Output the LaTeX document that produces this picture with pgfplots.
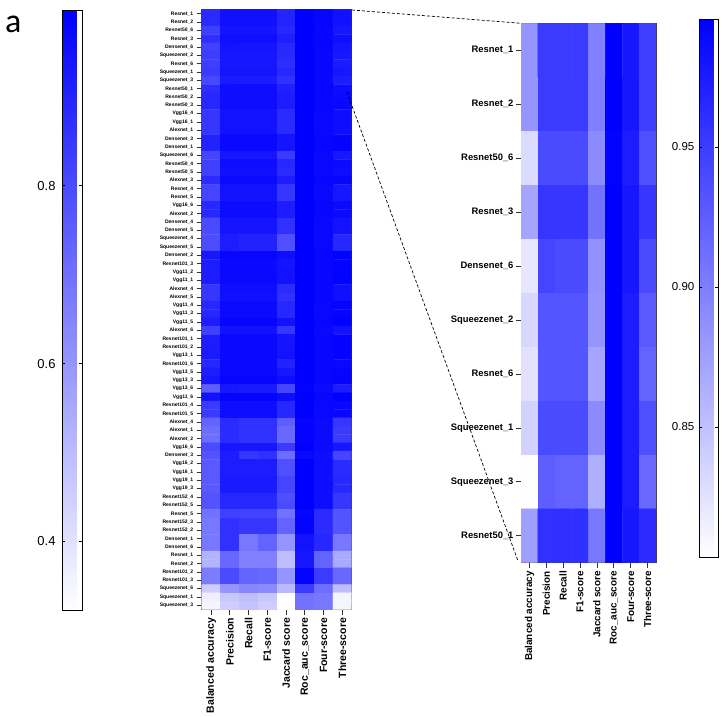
\documentclass[border=0pt]{standalone}
\usepackage{fontspec}
\setmainfont{Liberation Sans}
\newfontfamily\calibrifont{Carlito}
\usepackage{pgfplots}
\pgfplotsset{compat=1.18}

\pgfplotsset{
    colormap={whiteblue}{rgb255=(255,255,255) rgb255=(0,0,255)},
    heat/.style={
        colormap name=whiteblue,
        scale only axis,
        anchor=south west,
        y dir=reverse,
        enlargelimits=false,
        xmin=-0.5, xmax=7.5,
        tick align=outside,
        xtick pos=bottom,
        ytick pos=left,
        xtick={0,...,7},
        xticklabels={Balanced accuracy,Precision,Recall,F1-score,Jaccard score,Roc\_auc\_score,Four-score,Three-score},
        axis line style={line width=0.8pt, black!75},
        tick style={line width=0.7pt, black!80},
    },
    bar/.style={
        scale only axis,
        ytick pos=both,
        tick align=inside,
        major tick length=3pt,
        tick style={line width=0.7pt, black},
        axis line style={line width=0.8pt, black},
        /pgf/number format/assume math mode=true,
        /pgf/number format/fixed,
        /pgf/number format/zerofill,
        yticklabel pos=left,
    },
}

\begin{document}
\begin{tikzpicture}
\path[use as bounding box] (0,0) rectangle (728pt,717pt);
\node[anchor=base west, inner sep=0pt, font=\calibrifont\fontsize{34}{34}\selectfont] at (5pt,684.5pt) {a};

\begin{axis}[
    heat,
    at={(201.7pt,107.5pt)},
    width=150pt, height=600pt,
    ymin=-0.5, ymax=71.5,
    point meta min=0.322, point meta max=0.997,
    major tick length=5pt,
    ytick={0,...,71},
    yticklabels={Resnet\_1,Resnet\_2,Resnet50\_6,Resnet\_3,Densenet\_6,Squeezenet\_2,Resnet\_6,Squeezenet\_1,Squeezenet\_3,Resnet50\_1,Resnet50\_2,Resnet50\_3,Vgg16\_4,Vgg16\_1,Alexnet\_1,Densenet\_3,Densenet\_1,Squeezenet\_6,Resnet50\_4,Resnet50\_5,Alexnet\_3,Resnet\_4,Resnet\_5,Vgg16\_6,Alexnet\_2,Densenet\_4,Densenet\_5,Squeezenet\_4,Squeezenet\_5,Densenet\_2,Resnet101\_3,Vgg11\_2,Vgg11\_1,Alexnet\_4,Alexnet\_5,Vgg11\_4,Vgg11\_3,Vgg11\_5,Alexnet\_6,Resnet101\_1,Resnet101\_2,Vgg13\_1,Resnet101\_6,Vgg13\_5,Vgg13\_3,Vgg13\_6,Vgg11\_6,Resnet101\_4,Resnet101\_5,Alexnet\_4,Alexnet\_1,Alexnet\_2,Vgg16\_6,Densenet\_3,Vgg16\_2,Vgg16\_1,Vgg19\_1,Vgg19\_3,Resnet152\_4,Resnet152\_5,Resnet\_5,Resnet152\_3,Resnet152\_2,Densenet\_1,Densenet\_6,Resnet\_1,Resnet\_2,Resnet101\_2,Resnet101\_3,Squeezenet\_6,Squeezenet\_1,Squeezenet\_3},
    yticklabel style={font=\bfseries\fontsize{5}{5}\selectfont},
    xticklabel style={font=\bfseries\fontsize{10.5}{11}\selectfont, rotate=90, anchor=east},
    colorbar,
    colorbar style={
        bar,
        at={(-0.931,-0.002)}, anchor=south west,
        width=20pt, height=600pt,
        ytick={0.4,0.6,0.8},
        /pgf/number format/precision=1,
        yticklabel style={font=\fontsize{13}{13}\selectfont, xshift=-3pt},
    },
]
\addplot[matrix plot*, mesh/rows=72, mesh/cols=8, point meta=explicit]
table[row sep=\\, x=x, y=y, meta=C] {
x y C\\
0 0 0.883\\1 0 0.950\\2 0 0.950\\3 0 0.950\\4 0 0.898\\5 0 0.995\\6 0 0.977\\7 0 0.947\\
0 1 0.883\\1 1 0.950\\2 1 0.950\\3 1 0.950\\4 1 0.899\\5 1 0.995\\6 1 0.977\\7 1 0.947\\
0 2 0.830\\1 2 0.939\\2 2 0.939\\3 2 0.939\\4 2 0.890\\5 2 0.993\\6 2 0.973\\7 2 0.935\\
0 3 0.871\\1 3 0.954\\2 3 0.954\\3 3 0.954\\4 3 0.909\\5 3 0.995\\6 3 0.977\\7 3 0.954\\
0 4 0.822\\1 4 0.943\\2 4 0.939\\3 4 0.939\\4 4 0.886\\5 4 0.994\\6 4 0.977\\7 4 0.939\\
0 5 0.833\\1 5 0.931\\2 5 0.931\\3 5 0.931\\4 5 0.883\\5 5 0.995\\6 5 0.973\\7 5 0.928\\
0 6 0.826\\1 6 0.931\\2 6 0.931\\3 6 0.931\\4 6 0.871\\5 6 0.995\\6 6 0.973\\7 6 0.920\\
0 7 0.837\\1 7 0.939\\2 7 0.939\\3 7 0.939\\4 7 0.890\\5 7 0.995\\6 7 0.973\\7 7 0.935\\
0 8 0.804\\1 8 0.924\\2 8 0.920\\3 8 0.920\\4 8 0.864\\5 8 0.994\\6 8 0.973\\7 8 0.916\\
0 9 0.875\\1 9 0.958\\2 9 0.959\\3 9 0.959\\4 9 0.905\\5 9 0.995\\6 9 0.977\\7 9 0.962\\
0 10 0.891\\1 10 0.957\\2 10 0.957\\3 10 0.957\\4 10 0.918\\5 10 0.997\\6 10 0.975\\7 10 0.965\\
0 11 0.891\\1 11 0.962\\2 11 0.962\\3 11 0.962\\4 11 0.918\\5 11 0.997\\6 11 0.975\\7 11 0.971\\
0 12 0.851\\1 12 0.944\\2 12 0.944\\3 12 0.944\\4 12 0.878\\5 12 0.997\\6 12 0.972\\7 12 0.957\\
0 13 0.851\\1 13 0.944\\2 13 0.944\\3 13 0.944\\4 13 0.878\\5 13 0.997\\6 13 0.972\\7 13 0.957\\
0 14 0.851\\1 14 0.944\\2 14 0.944\\3 14 0.944\\4 14 0.878\\5 14 0.997\\6 14 0.972\\7 14 0.957\\
0 15 0.904\\1 15 0.968\\2 15 0.968\\3 15 0.968\\4 15 0.939\\5 15 0.997\\6 15 0.975\\7 15 0.985\\
0 16 0.904\\1 16 0.968\\2 16 0.968\\3 16 0.968\\4 16 0.939\\5 16 0.997\\6 16 0.975\\7 16 0.985\\
0 17 0.812\\1 17 0.931\\2 17 0.931\\3 17 0.931\\4 17 0.838\\5 17 0.992\\6 17 0.972\\7 17 0.931\\
0 18 0.825\\1 18 0.957\\2 18 0.957\\3 18 0.957\\4 18 0.891\\5 18 0.997\\6 18 0.972\\7 18 0.965\\
0 19 0.825\\1 19 0.949\\2 19 0.949\\3 19 0.949\\4 19 0.878\\5 19 0.997\\6 19 0.972\\7 19 0.957\\
0 20 0.878\\1 20 0.965\\2 20 0.965\\3 20 0.965\\4 20 0.918\\5 20 0.997\\6 20 0.975\\7 20 0.976\\
0 21 0.812\\1 21 0.944\\2 21 0.944\\3 21 0.944\\4 21 0.851\\5 21 0.997\\6 21 0.972\\7 21 0.931\\
0 22 0.812\\1 22 0.944\\2 22 0.944\\3 22 0.944\\4 22 0.851\\5 22 0.997\\6 22 0.972\\7 22 0.931\\
0 23 0.891\\1 23 0.962\\2 23 0.962\\3 23 0.962\\4 23 0.918\\5 23 0.997\\6 23 0.975\\7 23 0.965\\
0 24 0.891\\1 24 0.962\\2 24 0.962\\3 24 0.962\\4 24 0.918\\5 24 0.997\\6 24 0.975\\7 24 0.965\\
0 25 0.798\\1 25 0.939\\2 25 0.939\\3 25 0.939\\4 25 0.865\\5 25 0.997\\6 25 0.972\\7 25 0.944\\
0 26 0.798\\1 26 0.939\\2 26 0.939\\3 26 0.939\\4 26 0.865\\5 26 0.997\\6 26 0.972\\7 26 0.944\\
0 27 0.791\\1 27 0.918\\2 27 0.904\\3 27 0.904\\4 27 0.785\\5 27 0.997\\6 27 0.972\\7 27 0.891\\
0 28 0.791\\1 28 0.918\\2 28 0.904\\3 28 0.904\\4 28 0.785\\5 28 0.997\\6 28 0.972\\7 28 0.891\\
0 29 0.931\\1 29 0.976\\2 29 0.976\\3 29 0.976\\4 29 0.957\\5 29 0.997\\6 29 0.975\\7 29 0.988\\
0 30 0.918\\1 30 0.968\\2 30 0.968\\3 30 0.968\\4 30 0.939\\5 30 0.997\\6 30 0.975\\7 30 0.985\\
0 31 0.918\\1 31 0.968\\2 31 0.968\\3 31 0.968\\4 31 0.944\\5 31 0.997\\6 31 0.975\\7 31 0.988\\
0 32 0.918\\1 32 0.968\\2 32 0.968\\3 32 0.968\\4 32 0.944\\5 32 0.997\\6 32 0.975\\7 32 0.988\\
0 33 0.851\\1 33 0.957\\2 33 0.957\\3 33 0.957\\4 33 0.878\\5 33 0.997\\6 33 0.975\\7 33 0.949\\
0 34 0.851\\1 34 0.949\\2 34 0.949\\3 34 0.949\\4 34 0.865\\5 34 0.997\\6 34 0.975\\7 34 0.949\\
0 35 0.891\\1 35 0.965\\2 35 0.965\\3 35 0.965\\4 35 0.891\\5 35 0.997\\6 35 0.972\\7 35 0.978\\
0 36 0.891\\1 36 0.965\\2 36 0.965\\3 36 0.965\\4 36 0.891\\5 36 0.997\\6 36 0.972\\7 36 0.978\\
0 37 0.918\\1 37 0.976\\2 37 0.976\\3 37 0.976\\4 37 0.944\\5 37 0.997\\6 37 0.975\\7 37 0.990\\
0 38 0.825\\1 38 0.944\\2 38 0.944\\3 38 0.944\\4 38 0.851\\5 38 0.997\\6 38 0.972\\7 38 0.944\\
0 39 0.918\\1 39 0.968\\2 39 0.968\\3 39 0.968\\4 39 0.939\\5 39 0.997\\6 39 0.975\\7 39 0.985\\
0 40 0.918\\1 40 0.968\\2 40 0.968\\3 40 0.968\\4 40 0.939\\5 40 0.997\\6 40 0.975\\7 40 0.985\\
0 41 0.923\\1 41 0.968\\2 41 0.968\\3 41 0.968\\4 41 0.944\\5 41 0.997\\6 41 0.975\\7 41 0.985\\
0 42 0.891\\1 42 0.968\\2 42 0.968\\3 42 0.968\\4 42 0.904\\5 42 0.997\\6 42 0.975\\7 42 0.972\\
0 43 0.918\\1 43 0.968\\2 43 0.968\\3 43 0.968\\4 43 0.931\\5 43 0.997\\6 43 0.975\\7 43 0.978\\
0 44 0.931\\1 44 0.976\\2 44 0.976\\3 44 0.976\\4 44 0.957\\5 44 0.997\\6 44 0.975\\7 44 0.985\\
0 45 0.746\\1 45 0.931\\2 45 0.923\\3 45 0.923\\4 45 0.812\\5 45 0.989\\6 45 0.965\\7 45 0.918\\
0 46 0.944\\1 46 0.982\\2 46 0.982\\3 46 0.982\\4 46 0.957\\5 46 0.997\\6 46 0.975\\7 46 0.992\\
0 47 0.838\\1 47 0.957\\2 47 0.957\\3 47 0.957\\4 47 0.891\\5 47 0.997\\6 47 0.972\\7 47 0.972\\
0 48 0.838\\1 48 0.957\\2 48 0.957\\3 48 0.957\\4 48 0.891\\5 48 0.997\\6 48 0.972\\7 48 0.972\\
0 49 0.732\\1 49 0.878\\2 49 0.865\\3 49 0.865\\4 49 0.746\\5 49 0.984\\6 49 0.965\\7 49 0.851\\
0 50 0.706\\1 50 0.878\\2 50 0.865\\3 50 0.865\\4 50 0.719\\5 50 0.984\\6 50 0.965\\7 50 0.838\\
0 51 0.706\\1 51 0.878\\2 51 0.865\\3 51 0.865\\4 51 0.719\\5 51 0.984\\6 51 0.965\\7 51 0.838\\
0 52 0.798\\1 52 0.931\\2 52 0.931\\3 52 0.931\\4 52 0.838\\5 52 0.997\\6 52 0.965\\7 52 0.931\\
0 53 0.772\\1 53 0.918\\2 53 0.851\\3 53 0.865\\4 53 0.706\\5 53 0.971\\6 53 0.957\\7 53 0.812\\
0 54 0.759\\1 54 0.918\\2 54 0.918\\3 54 0.918\\4 54 0.785\\5 54 0.997\\6 54 0.957\\7 54 0.878\\
0 55 0.759\\1 55 0.918\\2 55 0.918\\3 55 0.918\\4 55 0.785\\5 55 0.997\\6 55 0.957\\7 55 0.878\\
0 56 0.759\\1 56 0.923\\2 56 0.923\\3 56 0.923\\4 56 0.812\\5 56 0.997\\6 56 0.957\\7 56 0.891\\
0 57 0.759\\1 57 0.923\\2 57 0.923\\3 57 0.923\\4 57 0.812\\5 57 0.997\\6 57 0.957\\7 57 0.891\\
0 58 0.772\\1 58 0.891\\2 58 0.891\\3 58 0.891\\4 58 0.785\\5 58 0.992\\6 58 0.957\\7 58 0.851\\
0 59 0.772\\1 59 0.891\\2 59 0.891\\3 59 0.891\\4 59 0.798\\5 59 0.992\\6 59 0.957\\7 59 0.851\\
0 60 0.693\\1 60 0.825\\2 60 0.817\\3 60 0.817\\4 60 0.693\\5 60 0.976\\6 60 0.878\\7 60 0.772\\
0 61 0.679\\1 61 0.865\\2 61 0.851\\3 61 0.851\\4 61 0.732\\5 61 0.984\\6 61 0.878\\7 61 0.772\\
0 62 0.679\\1 62 0.865\\2 62 0.851\\3 62 0.851\\4 62 0.732\\5 62 0.984\\6 62 0.878\\7 62 0.772\\
0 63 0.679\\1 63 0.865\\2 63 0.679\\3 63 0.732\\4 63 0.600\\5 63 0.944\\6 63 0.891\\7 63 0.679\\
0 64 0.679\\1 64 0.865\\2 64 0.679\\3 64 0.732\\4 64 0.600\\5 64 0.944\\6 64 0.891\\7 64 0.679\\
0 65 0.521\\1 65 0.719\\2 65 0.653\\3 65 0.653\\4 65 0.494\\5 65 0.931\\6 65 0.732\\7 65 0.547\\
0 66 0.521\\1 66 0.719\\2 66 0.653\\3 66 0.653\\4 66 0.494\\5 66 0.931\\6 66 0.732\\7 66 0.547\\
0 67 0.666\\1 67 0.798\\2 67 0.732\\3 67 0.719\\4 67 0.600\\5 67 0.984\\6 67 0.838\\7 67 0.719\\
0 68 0.666\\1 68 0.798\\2 68 0.732\\3 68 0.719\\4 68 0.600\\5 68 0.984\\6 68 0.838\\7 68 0.719\\
0 69 0.454\\1 69 0.600\\2 69 0.640\\3 69 0.626\\4 69 0.507\\5 69 0.838\\6 69 0.706\\7 69 0.494\\
0 70 0.362\\1 70 0.468\\2 70 0.494\\3 70 0.468\\4 70 0.322\\5 70 0.693\\6 70 0.679\\7 70 0.349\\
0 71 0.349\\1 71 0.454\\2 71 0.481\\3 71 0.454\\4 71 0.322\\5 71 0.693\\6 71 0.679\\7 71 0.349\\
};
\end{axis}

\begin{axis}[
    heat,
    at={(521pt,154.3pt)},
    width=135pt, height=539.4pt,
    ymin=-0.5, ymax=9.5,
    point meta min=0.8033, point meta max=0.9957,
    major tick length=5pt,
    ytick={0,...,9},
    yticklabels={Resnet\_1,Resnet\_2,Resnet50\_6,Resnet\_3,Densenet\_6,Squeezenet\_2,Resnet\_6,Squeezenet\_1,Squeezenet\_3,Resnet50\_1},
    yticklabel style={font=\bfseries\fontsize{9.4}{10}\selectfont, xshift=1pt},
    xticklabel style={font=\bfseries\fontsize{9.9}{10}\selectfont, rotate=90, anchor=east},
    colorbar,
    colorbar style={
        bar,
        at={(1.321,0.0093)}, anchor=south west,
        width=18.7pt, height=538.7pt,
        ytick={0.85,0.90,0.95},
        /pgf/number format/precision=2,
        yticklabel style={font=\fontsize{11.5}{13}\selectfont, xshift=-1.5pt},
    },
]
\addplot[matrix plot*, mesh/rows=10, mesh/cols=8, point meta=explicit]
table[row sep=\\, x=x, y=y, meta=C] {
x y C\\
0 0 0.883\\1 0 0.950\\2 0 0.950\\3 0 0.950\\4 0 0.898\\5 0 0.995\\6 0 0.977\\7 0 0.947\\
0 1 0.883\\1 1 0.950\\2 1 0.950\\3 1 0.950\\4 1 0.899\\5 1 0.995\\6 1 0.977\\7 1 0.947\\
0 2 0.830\\1 2 0.939\\2 2 0.939\\3 2 0.939\\4 2 0.890\\5 2 0.993\\6 2 0.973\\7 2 0.935\\
0 3 0.871\\1 3 0.954\\2 3 0.954\\3 3 0.954\\4 3 0.909\\5 3 0.995\\6 3 0.977\\7 3 0.954\\
0 4 0.822\\1 4 0.943\\2 4 0.939\\3 4 0.939\\4 4 0.886\\5 4 0.994\\6 4 0.977\\7 4 0.939\\
0 5 0.833\\1 5 0.931\\2 5 0.931\\3 5 0.931\\4 5 0.883\\5 5 0.995\\6 5 0.973\\7 5 0.928\\
0 6 0.826\\1 6 0.931\\2 6 0.931\\3 6 0.931\\4 6 0.871\\5 6 0.995\\6 6 0.973\\7 6 0.920\\
0 7 0.837\\1 7 0.939\\2 7 0.939\\3 7 0.939\\4 7 0.890\\5 7 0.995\\6 7 0.973\\7 7 0.935\\
0 8 0.804\\1 8 0.924\\2 8 0.920\\3 8 0.920\\4 8 0.864\\5 8 0.994\\6 8 0.973\\7 8 0.916\\
0 9 0.875\\1 9 0.958\\2 9 0.959\\3 9 0.959\\4 9 0.905\\5 9 0.995\\6 9 0.977\\7 9 0.962\\
};
\end{axis}

% dashed zoom lines
\draw[densely dashed, line width=0.7pt] (352pt,707pt) -- (521pt,693.7pt);
\draw[densely dashed, line width=0.7pt] (347pt,625pt) -- (518pt,156pt);
\end{tikzpicture}
\end{document}
